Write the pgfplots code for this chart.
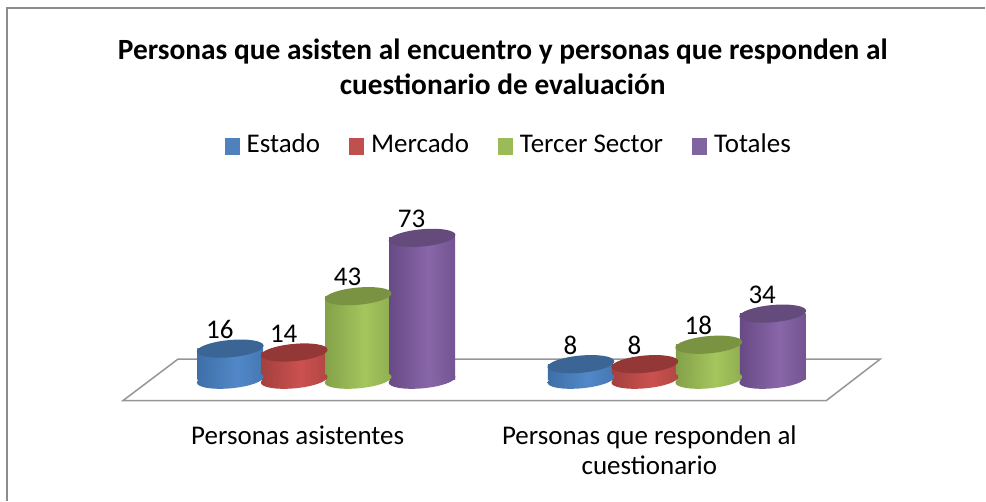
\documentclass[border=0pt]{standalone}
\usepackage{pgfplots}
\pgfplotsset{compat=1.18}
\usepackage{fontspec}
\setmainfont{Carlito}
\definecolor{bL}{HTML}{5288C8}\definecolor{bD}{HTML}{315E92}\definecolor{bT}{HTML}{3A6595}
\definecolor{rL}{HTML}{CB514F}\definecolor{rD}{HTML}{8A3533}\definecolor{rT}{HTML}{933836}
\definecolor{gL}{HTML}{A5C55E}\definecolor{gD}{HTML}{6E8A3A}\definecolor{gT}{HTML}{7A9343}
\definecolor{pL}{HTML}{8966A9}\definecolor{pD}{HTML}{52386E}\definecolor{pT}{HTML}{644B7C}
\definecolor{lb}{HTML}{4F81BD}\definecolor{lr}{HTML}{C0504D}\definecolor{lg}{HTML}{9BBB59}\definecolor{lp}{HTML}{8064A2}
\definecolor{frame}{HTML}{8C8C8C}\definecolor{floorc}{HTML}{969696}
\pgfdeclarehorizontalshading{cylb}{100bp}{color(0bp)=(bD);color(18bp)=(bD!75!bL);color(55bp)=(bL);color(85bp)=(bD!60!bL);color(100bp)=(bD)}
\pgfdeclarehorizontalshading{cylr}{100bp}{color(0bp)=(rD);color(18bp)=(rD!75!rL);color(55bp)=(rL);color(85bp)=(rD!60!rL);color(100bp)=(rD)}
\pgfdeclarehorizontalshading{cylg}{100bp}{color(0bp)=(gD);color(18bp)=(gD!75!gL);color(55bp)=(gL);color(85bp)=(gD!60!gL);color(100bp)=(gD)}
\pgfdeclarehorizontalshading{cylp}{100bp}{color(0bp)=(pD);color(18bp)=(pD!75!pL);color(55bp)=(pL);color(85bp)=(pD!60!pL);color(100bp)=(pD)}
\newcommand{\capellipse}{\pgfpathellipse{\pgfpointorigin}{\pgfqpoint{33.4pt}{3pt}}{\pgfqpoint{-0.6pt}{8.6pt}}}
\pgfdeclareplotmark{captop}{\capellipse\pgfusepathqfill}
\pgfdeclareplotmark{baseb}{\capellipse\pgfshadepath{cylb}{0}\pgfusepath{discard}}
\pgfdeclareplotmark{baser}{\capellipse\pgfshadepath{cylr}{0}\pgfusepath{discard}}
\pgfdeclareplotmark{baseg}{\capellipse\pgfshadepath{cylg}{0}\pgfusepath{discard}}
\pgfdeclareplotmark{basep}{\capellipse\pgfshadepath{cylp}{0}\pgfusepath{discard}}
\newcommand{\legsq}[1]{\pgfsetfillcolor{#1}\pgfpathrectangle{\pgfqpoint{0pt}{-8.5pt}}{\pgfqpoint{15pt}{17pt}}\pgfusepath{fill}}
\pgfplotsset{
  cylbody/.style={ybar, bar shift=0pt, bar width=66pt, draw=none, shading=#1},
  cylbase/.style={only marks, mark=#1, forget plot},
  cyltop/.style={only marks, mark=captop, mark options={draw=none, fill=#1}, forget plot,
    nodes near coords, every node near coord/.append style={anchor=center, xshift=-10.5pt, yshift=19pt, font=\fontsize{27}{30}\selectfont, text=black}},
}
\begin{document}
\begin{tikzpicture}
\begin{axis}[
  scale only axis, width=986pt, height=501pt,
  xmin=0, xmax=986, ymin=-62.21, ymax=195.37,
  clip=false,
  /pgf/number format/assume math mode=true,
  axis line style={draw=none},
  ytick=\empty,
  xtick={298,650},
  xticklabels={Personas asistentes,{Personas que responden al\\cuestionario}},
  major tick length=0pt,
  xticklabel style={anchor=north, align=center, yshift=78pt, font=\fontsize{27}{29.5}\selectfont},
  title={Personas que asisten al encuentro y personas que responden al\\cuestionario de evaluación},
  every axis title shift=0pt,
  title style={at={(0.5104,0.8675)}, anchor=center, align=center, font=\fontsize{29.4}{35}\selectfont\bfseries},
  legend columns=4,
  legend style={at={(0.5165,0.7076)}, anchor=center, draw=none, fill=none, inner sep=0pt,
    font=\fontsize{27}{30}\selectfont,
    nodes={text height=18pt, text depth=6pt},
    /tikz/every even column/.append style={column sep=27pt},
    /tikz/every odd column/.append style={column sep=5pt}},
]
\addplot[forget plot, draw=frame, line width=2pt] coordinates {(7,-62.21)(7,191.26)(986,191.26)};
\addplot[forget plot, draw=floorc, fill=white, line width=1.5pt] coordinates {(123,-10.8)(178,10.54)(881,10.54)(827,-10.8)} -- cycle;

\addplot[cylbase=baseb] coordinates {(230.5,0)(581.5,0)};
\addplot[cylbody=cylb, legend image code/.code={\legsq{lb}}] coordinates {(230.5,16)};
\addlegendentry{Estado}
\addplot[cylbody=cylb, forget plot] coordinates {(581.5,8)};
\addplot[cyltop=bT] coordinates {(230.5,16)(581.5,8)};

\addplot[cylbase=baser] coordinates {(294.5,0)(645.5,0)};
\addplot[cylbody=cylr, legend image code/.code={\legsq{lr}}] coordinates {(294.5,14)};
\addlegendentry{Mercado}
\addplot[cylbody=cylr, forget plot] coordinates {(645.5,8)};
\addplot[cyltop=rT] coordinates {(294.5,14)(645.5,8)};

\addplot[cylbase=baseg] coordinates {(358.5,0)(709.5,0)};
\addplot[cylbody=cylg, legend image code/.code={\legsq{lg}}] coordinates {(358.5,43)};
\addlegendentry{Tercer Sector}
\addplot[cylbody=cylg, forget plot] coordinates {(709.5,18)};
\addplot[cyltop=gT] coordinates {(358.5,43)(709.5,18)};

\addplot[cylbase=basep] coordinates {(422.5,0)(773.5,0)};
\addplot[cylbody=cylp, legend image code/.code={\legsq{lp}}] coordinates {(422.5,73)};
\addlegendentry{Totales}
\addplot[cylbody=cylp, forget plot] coordinates {(773.5,34)};
\addplot[cyltop=pT] coordinates {(422.5,73)(773.5,34)};
\end{axis}
\end{tikzpicture}
\end{document}
